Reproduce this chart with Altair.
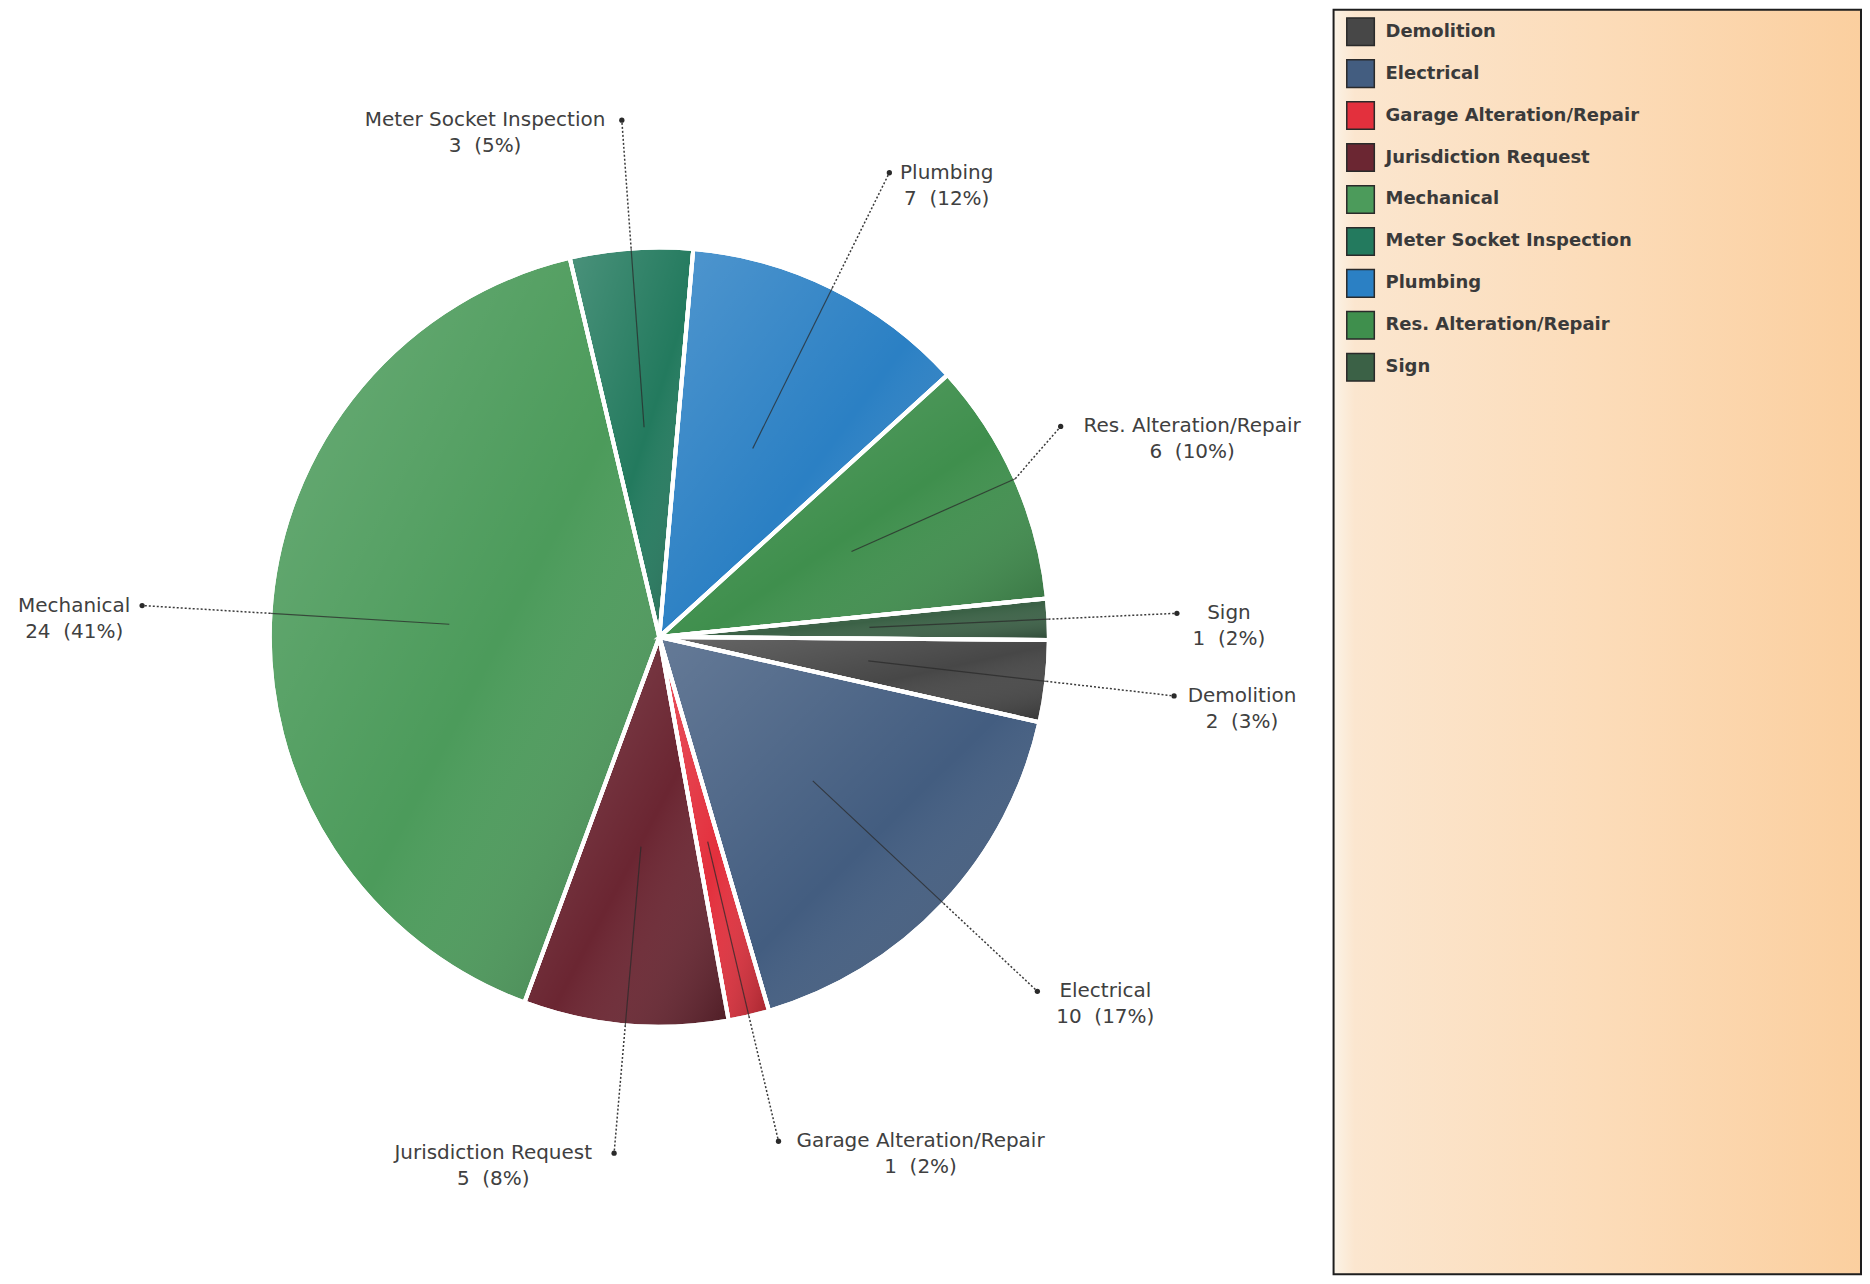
import math
import altair as alt
import pandas as pd

# ---- data (clockwise from the top) ----
names = ["Meter Socket Inspection", "Plumbing", "Res. Alteration/Repair", "Sign",
         "Demolition", "Electrical", "Garage Alteration/Repair",
         "Jurisdiction Request", "Mechanical"]
counts = [3, 7, 6, 1, 2, 10, 1, 5, 24]
slice_colors = ["#237a5e", "#2b80c4", "#3f8f4d", "#3b6146",
                "#474747", "#435d80", "#e3303d", "#6b2632", "#4c9b5b"]

# ---- layout parameters ----
PW, PH = 1304, 1256          # pie panel
LW, LH = 528, 1266           # legend panel
R = 390                      # pie radius (px)
START = -13.3                # start angle in degrees (clockwise from 12 o'clock)
CHAR_W = 10.6
GAP = 15
XMAX = PW / 2 - 2

total = sum(counts)
rows = []
cum = 0
for i, (n, c) in enumerate(zip(names, counts)):
    mid = math.radians(START + (cum + c / 2) / total * 360)
    cum += c
    s, co = math.sin(mid), math.cos(mid)
    line1 = n
    line2 = f"{c}\u00a0 ({round(c / total * 100)}%)"
    w = max(len(line1), len(line2)) * CHAR_W
    side = 1 if s > 0 else -1
    dx = 1.33 * R * s
    dy = 1.33 * R * co
    if side > 0:
        dx = min(dx, XMAX - GAP - w)
    else:
        dx = max(dx, -XMAX + GAP + w)
    rows.append(dict(
        name=n, count=c, order=i,
        label=line1 + "\n" + line2,
        xin=0.54 * R * s, yin=0.54 * R * co,
        xe=R * s, ye=R * co,
        xd=dx, yd=dy,
        xt=dx + side * (GAP + w / 2), yt=dy,
    ))
df = pd.DataFrame(rows)

color_scale = alt.Scale(domain=names, range=slice_colors)
xs = alt.Scale(domain=[-PW / 2, PW / 2], nice=False, zero=False)
ys = alt.Scale(domain=[-PH / 2, PH / 2], nice=False, zero=False)
theta_scale = alt.Scale(range=[math.radians(START), math.radians(START) + 2 * math.pi])

base = alt.Chart(df)

pie = base.mark_arc(outerRadius=R, stroke="white", strokeWidth=4).encode(
    theta=alt.Theta("count:Q", stack=True, scale=theta_scale),
    order=alt.Order("order:Q"),
    color=alt.Color("name:N", scale=color_scale, legend=None),
)
shade = base.mark_arc(
    outerRadius=R, stroke="white", strokeWidth=4,
    fill=alt.LinearGradient(
        gradient="linear", x1=0, y1=0, x2=1, y2=1,
        stops=[alt.GradientStop(offset=0, color="rgba(255,255,255,0.18)"),
               alt.GradientStop(offset=0.55, color="rgba(255,255,255,0.0)"),
               alt.GradientStop(offset=1, color="rgba(0,0,0,0.28)")]),
).encode(
    theta=alt.Theta("count:Q", stack=True, scale=theta_scale),
    order=alt.Order("order:Q"),
)

inner = base.mark_rule(color="#2a2a2a", strokeWidth=1.2, opacity=0.75).encode(
    x=alt.X("xin:Q", scale=xs, axis=None),
    y=alt.Y("yin:Q", scale=ys, axis=None),
    x2="xe:Q", y2="ye:Q",
)
outer = base.mark_rule(color="#3a3a3a", strokeWidth=1.5, strokeDash=[2, 2]).encode(
    x=alt.X("xe:Q", scale=xs, axis=None),
    y=alt.Y("ye:Q", scale=ys, axis=None),
    x2="xd:Q", y2="yd:Q",
)
dots = base.mark_point(filled=True, shape="circle", size=28, color="#2a2a2a", opacity=1).encode(
    x=alt.X("xd:Q", scale=xs, axis=None),
    y=alt.Y("yd:Q", scale=ys, axis=None),
)
labels = base.mark_text(font="DejaVu Sans", fontSize=20, lineBreak="\n", lineHeight=26,
                        align="center", baseline="middle", color="#404040").encode(
    x=alt.X("xt:Q", scale=xs, axis=None),
    y=alt.Y("yt:Q", scale=ys, axis=None),
    text="label:N",
)

pie_panel = alt.layer(pie, shade, inner, outer, dots, labels).properties(width=PW, height=PH)

# ---- legend panel ----
bg = alt.Chart(pd.DataFrame({"k": [0]})).mark_rect(
    fill=alt.LinearGradient(
        gradient="linear", x1=0, x2=1, y1=0, y2=0,
        stops=[alt.GradientStop(offset=0, color="#fbf3e6"),
               alt.GradientStop(offset=0.04, color="#fbe6cf"),
               alt.GradientStop(offset=0.5, color="#fcdcb9"),
               alt.GradientStop(offset=1, color="#fbcf9f")]),
    stroke="#1e1e1e", strokeWidth=2,
).encode(x=alt.value(0), x2=alt.value(LW), y=alt.value(0), y2=alt.value(LH))

leg_y = alt.Y("name:N", sort=sorted(names), axis=None,
              scale=alt.Scale(type="point", range=[22, 358], padding=0))
leg_sq = alt.Chart(df).mark_square(size=760, stroke="#2a2a2a", strokeWidth=1.5, opacity=1).encode(
    x=alt.value(27), y=leg_y,
    color=alt.Color("name:N", scale=color_scale, legend=None),
)
leg_tx = alt.Chart(df).mark_text(font="DejaVu Sans", fontSize=18, fontWeight="bold",
                                 align="left", baseline="middle", color="#3a3a3a").encode(
    x=alt.value(52), y=leg_y, text="name:N",
)
legend_panel = alt.layer(bg, leg_sq, leg_tx).properties(width=LW, height=LH)

chart = alt.hconcat(pie_panel, legend_panel, spacing=22).properties(
    padding=0, background="white"
).configure_view(stroke=None)

chart.save("out.html", embed_options={"renderer": "svg", "actions": False})
